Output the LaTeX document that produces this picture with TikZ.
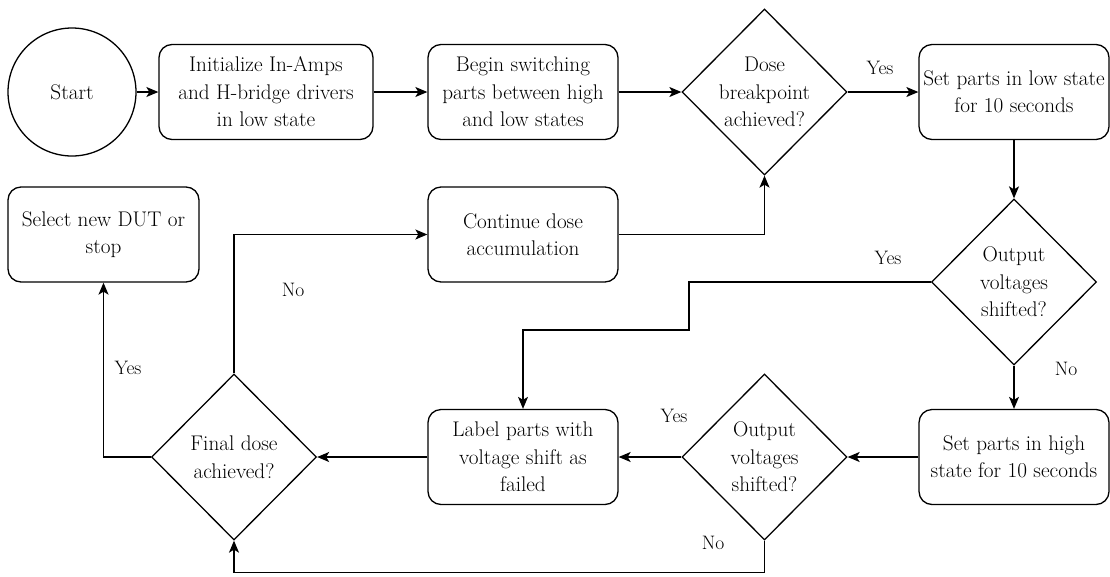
\documentclass[tikz,border=0pt]{standalone}
\usetikzlibrary{arrows.meta,shapes.geometric}
\begin{document}
\begin{tikzpicture}[x=1pt,y=-1pt,
  line width=1.3pt,
  every node/.style={font=\fontsize{21.2}{27.5}\selectfont},
  proc/.style={draw, rounded corners=13pt, minimum width=190pt, minimum height=95pt,
    inner sep=0pt, align=center},
  dec/.style={draw, diamond, minimum width=165pt, minimum height=166pt, inner sep=0pt},
  dtext/.style={align=center, inner sep=0pt},
  lbl/.style={inner sep=0pt, font=\fontsize{19.5}{24}\selectfont},
  flow/.style={-{Stealth[length=12pt,width=10pt,inset=3pt]}},
]
\useasboundingbox (0,0) rectangle (1110,576);

% process steps and decisions
\node[circle, draw, minimum size=128pt, inner sep=0pt] (start) at (72,92) {Start};
\node[proc, minimum width=214pt] (init) at (266,92) {Initialize In-Amps\\and H-bridge drivers\\in low state};
\node[proc] (switch) at (523,92) {Begin switching\\parts between high\\and low states};
\node[dec] (brk) at (764.5,92) {};
\node[dtext] (brkt) at (brk) {Dose\\breakpoint\\achieved?};
\node[proc] (low) at (1014,92) {Set parts in low state\\for 10 seconds};
\node[dec] (shift1) at (1014,282) {};
\node[dtext] (shift1t) at (shift1) {Output\\voltages\\shifted?};
\node[proc] (high) at (1014,457) {Set parts in high\\state for 10 seconds};
\node[dec] (shift2) at (764.5,457) {};
\node[dtext] (shift2t) at (shift2) {Output\\voltages\\shifted?};
\node[proc] (fail) at (523,457) {Label parts with\\voltage shift as\\failed};
\node[dec] (final) at (234,457) {};
\node[dtext] (finalt) at (final) {Final dose\\achieved?};
\node[proc] (cont) at (523,234.5) {Continue dose\\accumulation};
\node[proc, minimum width=191pt] (sel) at (103.5,234.5) {Select new DUT or\\stop};

% connectors
\draw[flow] (start) -- (init);
\draw[flow] (init) -- (switch);
\draw[flow] (switch.east) -- (brk.west);
\draw[flow] (brk.east) -- (low.west);
\draw[flow] (low.south) -- (shift1.north);
\draw[flow] (shift1.south) -- (high.north);
\draw[flow] (shift1.west) -| (689,330) -| (fail.north);
\draw[flow] (high.west) -- (shift2.east);
\draw[flow] (shift2.west) -- (fail.east);
\draw[flow] (fail.west) -- (final.east);
\draw[flow] (shift2.south) -- ++(0,32) -| (final.south);
\draw[flow] (final.west) -| (sel.south);
\draw[flow] (final.north) |- (cont.west);
\draw[flow] (cont.east) -| (brk.south);

% branch labels
\node[lbl] (y1) at (880,68) {Yes};
\node[lbl] (y2) at (888,258) {Yes};
\node[lbl] (n1) at (1066,369) {No};
\node[lbl] (y3) at (674,416) {Yes};
\node[lbl] (n2) at (713,543) {No};
\node[lbl] (y4) at (128,368) {Yes};
\node[lbl] (n3) at (293,290) {No};
\end{tikzpicture}
\end{document}
